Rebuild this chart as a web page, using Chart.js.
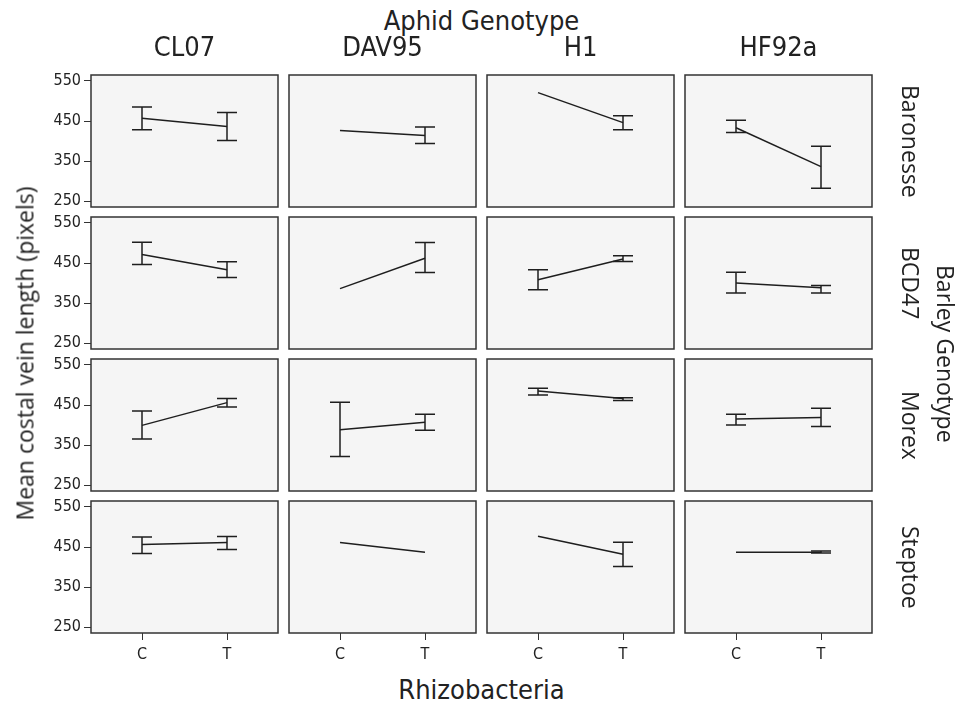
<!DOCTYPE html>
<html>
<head>
<meta charset="utf-8">
<script src="https://cdn.jsdelivr.net/npm/chart.js@4"></script>
<style>
  body { margin: 0; background: #fff; }
  #wrap { position: relative; width: 964px; height: 711px; overflow: hidden; }
  .panel { position: absolute; }
  .lbl { position: absolute; color: #222; white-space: nowrap; line-height: 1; }
  .top { font-family: "DejaVu Sans Condensed"; font-size: 27px; text-align: center; }
  .side { font-family: "Open Sans"; font-size: 23px; writing-mode: vertical-rl; text-align: center; }
</style>
</head>
<body>
<div id="wrap"></div>
<script>
// facets
var aphids = ['CL07', 'DAV95', 'H1', 'HF92a'];
var barleys = ['Baronesse', 'BCD47', 'Morex', 'Steptoe'];
var treatments = ['C', 'T'];
var yTicks = [250, 350, 450, 550];

// means per barley row, one entry per aphid column
var meanC = [
    [457, 426, 521, 433],
    [471, 386, 408, 400],
    [399, 388, 485, 415],
    [456, 461, 477, 437]
];
var meanT = [
    [436, 414, 446, 336],
    [433, 462, 460, 388],
    [456, 407, 466, 419],
    [461, 437, 432, 437]
];
// error bar ends (null = no bar drawn)
var lowC = [
    [428, null, null, 421],
    [446, null, 383, 375],
    [365, 321, 475, 400],
    [434, null, null, null]
];
var highC = [
    [485, null, null, 452],
    [502, null, 433, 427],
    [435, 457, 492, 427],
    [475, null, null, null]
];
var lowT = [
    [401, 394, 428, 282],
    [414, 426, 454, 375],
    [445, 387, 461, 396],
    [444, null, 401, 435]
];
var highT = [
    [471, 435, 463, 387],
    [453, 501, 468, 394],
    [466, 427, 468, 442],
    [476, null, 462, 440]
];

var colLeft = [91, 289, 487, 685];
var rowTop = [75, 217, 359, 501];
var panelW = 187, panelH = 132;
var padL = 60, padT = 14, padR = 4, padB = 36;
var ink = '#1e1e1e';

var wrap = document.getElementById('wrap');

function addLabel(text, cls, css) {
    var d = document.createElement('div');
    d.className = 'lbl ' + cls;
    d.textContent = text;
    for (var k in css) d.style[k] = css[k];
    wrap.appendChild(d);
    return d;
}

var panelPlugin = {
    id: 'panelFrame',
    beforeDatasetsDraw: function(chart) {
        var a = chart.chartArea, ctx = chart.ctx;
        ctx.save();
        ctx.fillStyle = '#f5f5f5';
        ctx.fillRect(a.left, a.top, a.right - a.left, a.bottom - a.top);
        ctx.restore();
    },
    afterDatasetsDraw: function(chart) {
        var a = chart.chartArea, ctx = chart.ctx;
        var xs = chart.scales.x, ys = chart.scales.y;
        var bars = chart.options.plugins.panelFrame.bars;
        ctx.save();
        ctx.strokeStyle = ink;
        ctx.lineWidth = 1.5;
        bars.forEach(function(b, i) {
            if (b[0] === null) return;
            var x = xs.getPixelForValue(i);
            var y1 = ys.getPixelForValue(b[0]);
            var y2 = ys.getPixelForValue(b[1]);
            ctx.beginPath();
            ctx.moveTo(x, y1); ctx.lineTo(x, y2);
            ctx.moveTo(x - 10, y1); ctx.lineTo(x + 10, y1);
            ctx.moveTo(x - 10, y2); ctx.lineTo(x + 10, y2);
            ctx.stroke();
        });
        ctx.strokeStyle = '#333';
        ctx.lineWidth = 1.5;
        ctx.strokeRect(a.left, a.top, a.right - a.left, a.bottom - a.top);
        ctx.restore();
    }
};

for (var r = 0; r < barleys.length; r++) {
    for (var c = 0; c < aphids.length; c++) {
        var box = document.createElement('div');
        box.className = 'panel';
        box.style.left = (colLeft[c] - padL) + 'px';
        box.style.top = (rowTop[r] - padT) + 'px';
        box.style.width = (panelW + padL + padR) + 'px';
        box.style.height = (panelH + padT + padB) + 'px';
        var cv = document.createElement('canvas');
        box.appendChild(cv);
        wrap.appendChild(box);

        var showY = c === 0, showX = r === barleys.length - 1;
        new Chart(cv, {
            type: 'line',
            data: {
                datasets: [{
                    data: [{ x: 0, y: meanC[r][c] }, { x: 1, y: meanT[r][c] }],
                    borderColor: ink,
                    borderWidth: 1.5,
                    pointRadius: 0,
                    tension: 0
                }]
            },
            options: {
                responsive: true,
                maintainAspectRatio: false,
                animation: false,
                events: [],
                layout: { padding: { left: showY ? 0 : padL, top: padT, right: padR, bottom: showX ? 0 : padB } },
                plugins: {
                    legend: { display: false },
                    tooltip: { enabled: false },
                    panelFrame: { bars: [[lowC[r][c], highC[r][c]], [lowT[r][c], highT[r][c]]] }
                },
                scales: {
                    x: {
                        type: 'linear',
                        min: -0.6,
                        max: 1.6,
                        display: showX,
                        afterBuildTicks: function(s) { s.ticks = treatments.map(function(t, i) { return { value: i }; }); },
                        afterFit: function(s) { s.height = s.options.display ? padB : 0; },
                        border: { display: false },
                        grid: { drawOnChartArea: false, tickLength: 7, color: '#333' },
                        ticks: {
                            padding: 5,
                            color: '#222',
                            font: { family: 'DejaVu Sans Condensed', size: 16 },
                            callback: function(v) { return treatments[v]; }
                        }
                    },
                    y: {
                        min: 235,
                        max: 565,
                        display: showY,
                        afterBuildTicks: function(s) { s.ticks = yTicks.map(function(v) { return { value: v }; }); },
                        afterFit: function(s) { s.width = s.options.display ? padL : 0; },
                        border: { display: false },
                        grid: { drawOnChartArea: false, tickLength: 7, color: '#333' },
                        ticks: {
                            padding: 3,
                            color: '#222',
                            font: { family: 'DejaVu Sans Condensed', size: 16 }
                        }
                    }
                }
            },
            plugins: [panelPlugin]
        });
    }
}

// titles
addLabel('Aphid Genotype', 'top', { left: '91px', width: '781px', top: '7px' });
aphids.forEach(function(a, c) {
    addLabel(a, 'top', { left: colLeft[c] + 'px', width: panelW + 'px', top: '33px' });
});
addLabel('Rhizobacteria', 'top', { left: '91px', width: '781px', top: '676px' });
barleys.forEach(function(b, r) {
    addLabel(b, 'side', { left: '899px', top: rowTop[r] + 'px', height: panelH + 'px' });
});
addLabel('Barley Genotype', 'side', { left: '934px', top: '75px', height: '558px' });
addLabel('Mean costal vein length (pixels)', 'top', {
    fontFamily: 'Open Sans', fontSize: '23px',
    left: '-175px', width: '400px', top: '342px', transform: 'rotate(-90deg)'
});
</script>
</body>
</html>
